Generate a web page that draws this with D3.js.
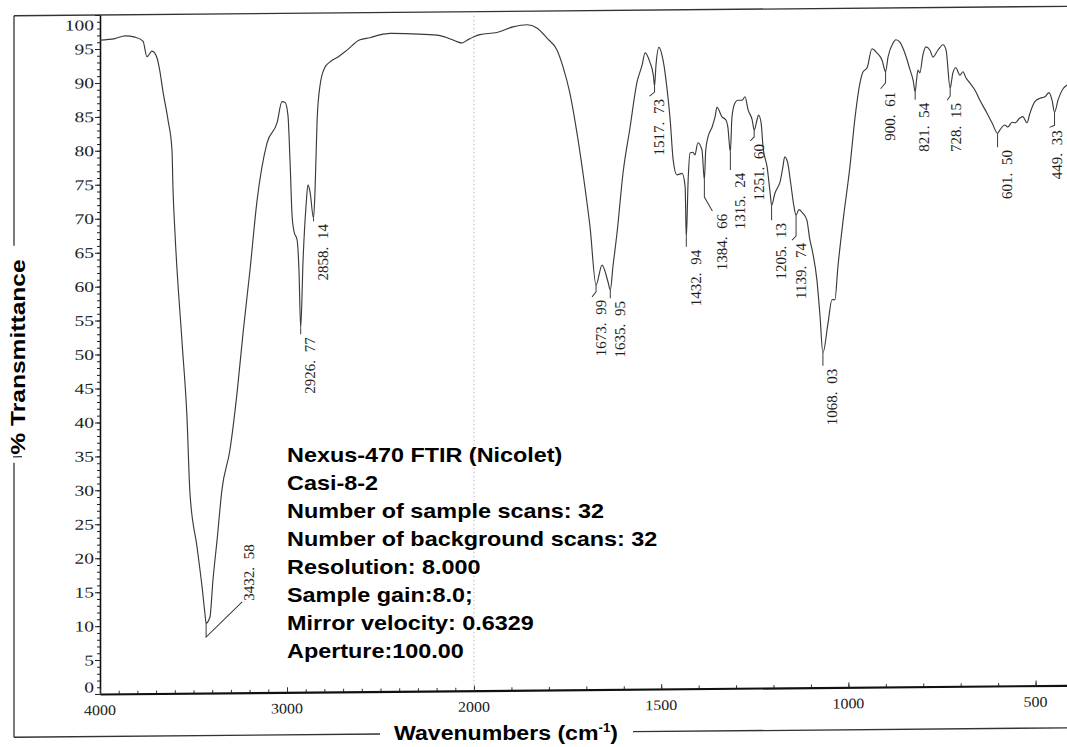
<!DOCTYPE html>
<html>
<head>
<meta charset="utf-8">
<title>FTIR spectrum – Casi-8-2</title>
<script src="https://cdn.jsdelivr.net/npm/d3@7"></script>
<style>
  html, body { margin: 0; padding: 0; background: #fff; }
  svg { display: block; }
</style>
</head>
<body>
<svg id="chart" width="1067" height="747"></svg>
<script>
// ---- spectrum (wavenumber in cm-1, % transmittance) ----
const wavenumbers = [
  4000, 3920, 3866, 3813, 3770, 3749, 3722, 3695, 3679, 3663, 3636, 3615, 3610, 3599, 3561, 3535,
  3519, 3481, 3454, 3438, 3432.58, 3412, 3396, 3374, 3348, 3305, 3267, 3235, 3198, 3160, 3107, 3053,
  3027, 3011, 2995, 2984, 2973, 2962, 2946, 2936, 2926.77, 2914, 2898, 2888, 2877, 2858.14, 2850, 2839,
  2823, 2797, 2770, 2727, 2679, 2610, 2556, 2503, 2449, 2326, 2198, 2144, 2091, 2064, 2037, 2000,
  1984, 1939, 1896, 1858, 1832, 1805, 1778, 1762, 1744, 1725, 1709, 1690, 1673.99, 1658, 1642, 1635.95,
  1629, 1618, 1602, 1583, 1565, 1551, 1543, 1530, 1521, 1517.73, 1514, 1506, 1495, 1484, 1476, 1468,
  1458, 1444, 1436, 1432.94, 1428, 1423, 1415, 1410, 1402, 1391, 1384.66, 1381, 1375, 1364, 1356, 1351,
  1338, 1327, 1322, 1315.24, 1311, 1303, 1295, 1284, 1276, 1268, 1257, 1251.60, 1244, 1240, 1233, 1228,
  1217, 1209, 1205.13, 1196, 1188, 1183, 1175, 1170, 1162, 1154, 1146, 1139.74, 1132, 1122, 1111, 1103,
  1095, 1084, 1076, 1068.03, 1054, 1044, 1036, 1028, 1014, 996, 982, 969, 961, 950, 937, 924,
  910, 900.61, 894, 881, 873, 862, 849, 835, 827, 821.54, 818, 814, 809, 801, 793, 782,
  774, 761, 747, 739, 728.15, 724, 721, 713, 702, 694, 686, 675, 662, 649, 630, 616,
  601.50, 595, 582, 574, 563, 555, 542, 534, 523, 515, 502, 488, 475, 464, 456, 449.33,
  440, 426, 416, 400
];
const transmittance = [
  96.3, 96.5, 96.9, 96.7, 96.1, 93.8, 94.6, 93.6, 91.5, 88.6, 84.4, 80.0, 74.6, 67.8, 51.6, 40.7,
  29.5, 21.5, 15.6, 11.5, 10.3, 11.2, 16.6, 22.5, 29.9, 35.8, 44.2, 53.0, 62.2, 72.5, 80.9, 83.9,
  87.0, 86.9, 85.0, 78.4, 70.3, 67.8, 66.6, 62.2, 53.6, 63.7, 71.7, 74.7, 73.7, 69.8, 73.9, 84.2,
  89.4, 92.0, 92.8, 93.5, 94.5, 96.0, 96.3, 96.7, 96.9, 96.8, 96.6, 96.2, 95.6, 95.4, 95.8, 96.3,
  96.6, 96.9, 97.7, 98.0, 97.5, 96.0, 94.2, 91.7, 87.9, 82.0, 76.1, 68.1, 59.6, 62.5, 60.0, 58.8,
  62.2, 67.2, 76.0, 82.8, 89.3, 91.9, 93.7, 92.3, 90.4, 88.8, 91.8, 94.5, 92.6, 88.2, 83.8, 77.9,
  75.7, 75.9, 73.9, 66.4, 74.9, 78.9, 79.0, 78.6, 80.4, 79.3, 74.9, 79.3, 81.2, 82.7, 84.2, 85.6,
  84.2, 83.7, 82.7, 79.0, 84.1, 86.2, 86.6, 86.6, 87.1, 85.2, 83.7, 82.2, 83.7, 84.4, 83.2, 79.7,
  76.7, 72.9, 71.1, 72.9, 73.8, 74.4, 76.7, 78.2, 77.3, 74.3, 71.1, 69.6, 70.4, 69.9, 68.9, 66.0,
  64.0, 60.0, 54.9, 49.3, 53.8, 57.1, 57.1, 61.9, 68.8, 76.6, 84.0, 89.0, 90.6, 91.2, 94.0, 93.4,
  92.3, 90.6, 92.8, 94.8, 95.3, 94.9, 93.3, 90.8, 89.3, 87.6, 89.3, 90.8, 90.4, 93.0, 94.2, 93.7,
  92.7, 93.7, 94.5, 93.7, 88.1, 89.3, 90.3, 91.1, 90.0, 90.5, 89.6, 88.8, 87.8, 86.3, 84.4, 82.9,
  81.4, 81.9, 82.6, 82.3, 83.0, 82.9, 83.6, 83.8, 82.9, 84.3, 86.0, 86.5, 86.7, 87.3, 86.2, 84.4,
  86.2, 87.9, 88.4, 89.1
];

// ---- labelled peaks ----
const peakPositions = [3432.58, 2926.77, 2858.14, 1673.99, 1635.95, 1517.73, 1432.94, 1384.66, 1315.24,
  1251.60, 1205.13, 1139.74, 1068.03, 900.61, 821.54, 728.15, 601.50, 449.33];
const peakTexts = ["3432. 58", "2926. 77", "2858. 14", "1673. 99", "1635. 95", "1517. 73", "1432. 94",
  "1384. 66", "1315. 24", "1251. 60", "1205. 13", "1139. 74", "1068. 03", "900. 61", "821. 54",
  "728. 15", "601. 50", "449. 33"];

// ---- axes ----
const yTickValues = d3.range(0, 101, 5);
const yMinorValues = d3.range(0, 101, 1);
const xTickValues = [4000, 3000, 2000, 1500, 1000, 500];
const xMinorValues = d3.range(500, 4000, 100);

// ---- instrument notes ----
const infoLines = [
  "Nexus-470 FTIR (Nicolet)",
  "Casi-8-2",
  "Number of sample scans: 32",
  "Number of background scans: 32",
  "Resolution: 8.000",
  "Sample gain:8.0;",
  "Mirror velocity: 0.6329",
  "Aperture:100.00"
];

// leader shape for each peak label: drop below the peak, then an optional offset
const leaderLayout = [
  { down: 14, dx: 36, dy: -35, up: true },
  { down: 6,  dx: 0,  dy: 0 },
  { down: 3,  dx: 0,  dy: 0 },
  { down: 7,  dx: -4, dy: 5 },
  { down: 8,  dx: 0,  dy: 0 },
  { down: 6,  dx: -5, dy: 4 },
  { down: 9,  dx: 0,  dy: 0 },
  { down: 17, dx: 8,  dy: 14 },
  { down: 18, dx: 0,  dy: 0 },
  { down: 7,  dx: -4, dy: 4 },
  { down: 15, dx: 0,  dy: 0 },
  { down: 21, dx: -4, dy: 4 },
  { down: 13, dx: 0,  dy: 0 },
  { down: 11, dx: -5, dy: 6 },
  { down: 8,  dx: 0,  dy: 0 },
  { down: 8,  dx: -3, dy: 4 },
  { down: 14, dx: 0,  dy: 0 },
  { down: 13, dx: -5, dy: 2, tx: 7 }
];

const svg = d3.select("#chart");
const serif = "'Liberation Serif', 'Times New Roman', serif";
const sans = "'Liberation Sans', Arial, Helvetica, sans-serif";

// the printed sheet sits very slightly slanted
const shear = -0.009;
const plot = svg.append("g")
  .attr("transform", `matrix(1,${shear},0,1,0,${-shear * 100})`);

const x = d3.scaleLinear().domain([4000, 2000, 400]).range([100, 474, 1073]);
const y = d3.scaleLinear().domain([0, 100]).range([694, 15]);

// outer frame, broken where the axis titles sit
const frameY = 736.5;
const frame = plot.append("g").attr("fill", "none").attr("stroke", "#333").attr("stroke-width", 1.3);
[
  `M14,${y(100)}H1090`,
  `M14,${y(100)}V245`,
  `M14,462V${frameY}`,
  `M13,456H22`,
  `M14,${frameY}H380`,
  `M633,${frameY}H1090`
].forEach(d => frame.append("path").attr("d", d));

// dotted divider where the wavenumber scale changes
plot.append("line")
  .attr("x1", x(2000)).attr("x2", x(2000))
  .attr("y1", y(100)).attr("y2", y(0))
  .attr("stroke", "#b8b8b8").attr("stroke-width", 1)
  .attr("stroke-dasharray", "1.5,2.5");

// y axis
const yAxisG = plot.append("g").attr("transform", `translate(${x(4000)},0)`);
yAxisG.append("g")
  .call(d3.axisLeft(y).tickValues(yMinorValues).tickSize(3).tickSizeOuter(0).tickFormat(""))
  .call(g => g.select(".domain").remove());
yAxisG.append("g")
  .call(d3.axisLeft(y).tickValues(yTickValues).tickSize(5).tickSizeOuter(0).tickFormat(""));
yAxisG.selectAll("line").attr("stroke", "#222").attr("stroke-width", 1);
yAxisG.selectAll(".domain").attr("stroke", "#111").attr("stroke-width", 1.6);

plot.append("g").selectAll("text")
  .data(yTickValues)
  .join("text")
  .attr("transform", d => `translate(94,${y(d) + (d === 100 ? 10 : d === 0 ? -7 : 0)}) scale(1.3,1)`)
  .attr("dy", "0.35em")
  .attr("text-anchor", "end")
  .attr("font-family", serif)
  .attr("font-size", 15)
  .attr("fill", "#222")
  .text(d => d);

// x axis
const xAxisG = plot.append("g").attr("transform", `translate(0,${y(0)})`);
xAxisG.append("g")
  .call(d3.axisBottom(x).tickValues(xMinorValues).tickSize(-3).tickSizeOuter(0).tickFormat(""))
  .call(g => g.select(".domain").remove());
xAxisG.append("g")
  .call(d3.axisBottom(x).tickValues(xTickValues).tickSize(-5).tickSizeOuter(0).tickFormat(""));
xAxisG.selectAll("line").attr("stroke", "#333").attr("stroke-width", 1);
xAxisG.selectAll(".domain").attr("stroke", "#111").attr("stroke-width", 2.2);

plot.append("g").selectAll("text")
  .data(xTickValues)
  .join("text")
  .attr("transform", d => `translate(${x(d)},710) scale(1.1,1)`)
  .attr("dy", "0.35em")
  .attr("text-anchor", "middle")
  .attr("font-family", serif)
  .attr("font-size", 14.5)
  .attr("fill", "#222")
  .text(d => d);

// spectrum trace
const spectrum = wavenumbers.map((w, i) => ({ w, t: transmittance[i] }));
plot.append("path")
  .datum(spectrum)
  .attr("fill", "none")
  .attr("stroke", "#3a3a3a")
  .attr("stroke-width", 1.15)
  .attr("stroke-linejoin", "round")
  .attr("d", d3.line().curve(d3.curveMonotoneX).x(d => x(d.w)).y(d => y(d.t)));

// peak labels with leader lines
const peaks = peakPositions.map((w, i) => {
  const t = transmittance[wavenumbers.indexOf(w)];
  const L = leaderLayout[i];
  const px = x(w), py = y(t);
  const mx = px, my = py + L.down;
  const ex = px + L.dx, ey = my + L.dy;
  return { text: peakTexts[i], px, py, mx, my, ex, ey, up: !!L.up, tx: L.tx };
});
const peakG = plot.append("g");
peakG.selectAll("path")
  .data(peaks)
  .join("path")
  .attr("fill", "none")
  .attr("stroke", "#3a3a3a")
  .attr("stroke-width", 1)
  .attr("d", d => `M${d.px},${d.py}L${d.mx},${d.my}L${d.ex},${d.ey}`);
peakG.selectAll("text")
  .data(peaks)
  .join("text")
  .attr("transform", d => d.up
    ? `translate(${d.ex + 7},${d.ey - 1}) rotate(-90)`
    : `translate(${d.ex + (d.tx || 9)},${d.ey + 3}) rotate(-90)`)
  .attr("dy", "0.35em")
  .attr("text-anchor", d => d.up ? "start" : "end")
  .attr("font-family", serif)
  .attr("font-size", 15)
  .style("word-spacing", "4px")
  .attr("fill", "#1e1e1e")
  .text(d => d.text);

// axis titles
svg.append("text")
  .attr("transform", "translate(25,357) rotate(-90) scale(1.23,1)")
  .attr("text-anchor", "middle")
  .attr("font-family", sans)
  .attr("font-weight", "bold")
  .attr("font-size", 20)
  .attr("fill", "#000")
  .text("% Transmittance");

const xTitle = svg.append("text")
  .attr("transform", "translate(506,740) scale(1.1,1)")
  .attr("text-anchor", "middle")
  .attr("font-family", sans)
  .attr("font-weight", "bold")
  .attr("font-size", 21)
  .attr("fill", "#000");
xTitle.append("tspan").text("Wavenumbers (cm");
xTitle.append("tspan").attr("font-size", 12).attr("dy", -8).text("-1");
xTitle.append("tspan").attr("dy", 8).text(")");

// instrument notes
svg.append("g").selectAll("text")
  .data(infoLines)
  .join("text")
  .attr("transform", (d, i) => `translate(287,${462 + 28 * i}) scale(1.2,1)`)
  .attr("font-family", sans)
  .attr("font-weight", "bold")
  .attr("font-size", 19.5)
  .attr("fill", "#000")
  .text(d => d);
</script>
</body>
</html>
